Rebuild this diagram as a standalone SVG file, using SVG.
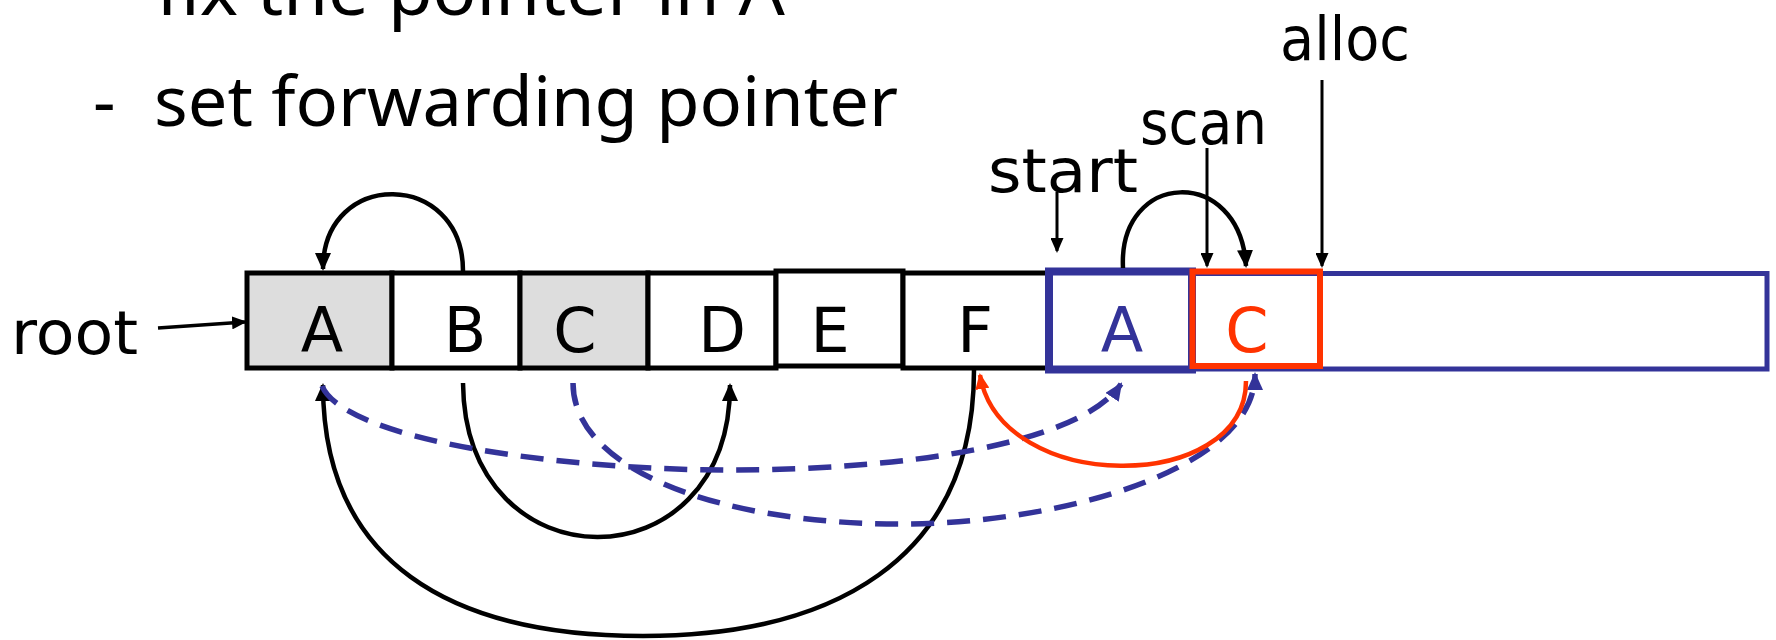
<svg xmlns="http://www.w3.org/2000/svg" width="1776" height="640" viewBox="0 0 1776 640">
<style>
.head{font-family:"Noto Sans","Open Sans",sans-serif;font-size:70px;fill:#000}
.lbl{font-family:"DejaVu Sans",sans-serif;font-size:60px;fill:#000}
.let{font-family:"DejaVu Sans",sans-serif;font-size:62px;text-anchor:middle;fill:#000}
.box{stroke:#000;stroke-width:5;fill:#fff}
.grey{fill:#DDDDDD}
.blk{fill:none;stroke:#000;stroke-width:4.5}
.ptr{fill:none;stroke:#000;stroke-width:3}
.dash{fill:none;stroke:#333399;stroke-width:5.5;stroke-dasharray:23 13}
.red{fill:none;stroke:#FF3300;stroke-width:4.5}
</style>
<defs>
<marker id="ahB" viewBox="0 0 18 16" refX="16" refY="8" markerWidth="18" markerHeight="16" markerUnits="userSpaceOnUse" orient="auto"><path d="M0,0L18,8L0,16z" fill="#000"/></marker>
<marker id="ahS" viewBox="0 0 15 13" refX="13" refY="6.5" markerWidth="15" markerHeight="13" markerUnits="userSpaceOnUse" orient="auto"><path d="M0,0L15,6.5L0,13z" fill="#000"/></marker>
<marker id="ahU" viewBox="0 0 18 16" refX="16" refY="8" markerWidth="18" markerHeight="16" markerUnits="userSpaceOnUse" orient="auto"><path d="M0,0L18,8L0,16z" fill="#333399"/></marker>
<marker id="ahR" viewBox="0 0 16 14" refX="14" refY="7" markerWidth="16" markerHeight="14" markerUnits="userSpaceOnUse" orient="auto"><path d="M0,0L16,7L0,14z" fill="#FF3300"/></marker>
</defs>

<g id="heading">
<text class="head" x="156" y="15" textLength="629" lengthAdjust="spacingAndGlyphs">fix the pointer in A</text>
<text class="head" x="93" y="126">-</text>
<text class="head" x="154" y="126" textLength="744" lengthAdjust="spacingAndGlyphs">set forwarding pointer</text>
</g>

<g id="labels">
<text id="root" class="lbl" x="11" y="354" textLength="127" lengthAdjust="spacingAndGlyphs">root</text>
<text id="start" class="lbl" x="988" y="192" textLength="150" lengthAdjust="spacingAndGlyphs">start</text>
<text id="scan" class="lbl" x="1140" y="144" textLength="127" lengthAdjust="spacingAndGlyphs">scan</text>
<text id="alloc" class="lbl" x="1280" y="60" textLength="130" lengthAdjust="spacingAndGlyphs">alloc</text>
</g>

<g id="nodeA"><rect class="box grey" x="247" y="273" width="145" height="95"/><text class="let" x="322" y="352">A</text></g>
<g id="nodeB"><rect class="box" x="392" y="273" width="128" height="95"/><text class="let" x="465" y="352">B</text></g>
<g id="nodeC"><rect class="box grey" x="520" y="273" width="128" height="95"/><text class="let" x="575" y="352">C</text></g>
<g id="nodeD"><rect class="box" x="648" y="273" width="128" height="95"/><text class="let" x="722" y="352">D</text></g>
<g id="nodeE"><rect class="box" x="776" y="271" width="127" height="95"/><text class="let" x="830" y="352">E</text></g>
<g id="nodeF"><rect class="box" x="903" y="273" width="147" height="95"/><text class="let" x="975" y="352">F</text></g>
<g id="tospace"><rect x="1050" y="273.5" width="717" height="95.5" fill="none" stroke="#333399" stroke-width="5"/></g>
<g id="nodeA2"><rect x="1049" y="271.5" width="143" height="98" fill="#fff" stroke="#333399" stroke-width="8"/><text class="let" x="1122" y="352" style="fill:#333399">A</text></g>
<g id="nodeC2"><rect x="1192.5" y="271.5" width="127.5" height="94.5" fill="none" stroke="#FF3300" stroke-width="6"/><text class="let" x="1247" y="352" style="fill:#FF3300">C</text></g>

<g id="connectors">
<path class="ptr" d="M158,328 L245,322" marker-end="url(#ahS)" style="stroke-width:3.5"/>
<path class="ptr" d="M1057,192 L1057,251" marker-end="url(#ahS)"/>
<path class="ptr" d="M1207,148 L1207,266" marker-end="url(#ahS)"/>
<path class="ptr" d="M1322,80 L1322,266" marker-end="url(#ahS)"/>
<path class="blk" d="M463,271 C463,170 323,168 323,269" marker-end="url(#ahB)"/>
<path class="blk" d="M1123,268 C1118,170 1240,165 1246,266" marker-end="url(#ahB)"/>
<path class="blk" d="M463,383 C465,588 730,588 730,385" marker-end="url(#ahB)"/>
<path class="blk" d="M974,370 C974,562 830,636 643,636 C450,636 323,562 323,385" marker-end="url(#ahB)"/>
<path class="dash" d="M322,386 C345,440 560,470 730,470 C900,470 1080,445 1121,384" marker-end="url(#ahU)"/>
<path class="dash" d="M573,383 C573,470 720,524 900,524 C1060,524 1255,470 1255,374" marker-end="url(#ahU)"/>
<path class="red" d="M1246,381 C1246,495 1000,495 980,375" marker-end="url(#ahR)"/>
</g>
</svg>
